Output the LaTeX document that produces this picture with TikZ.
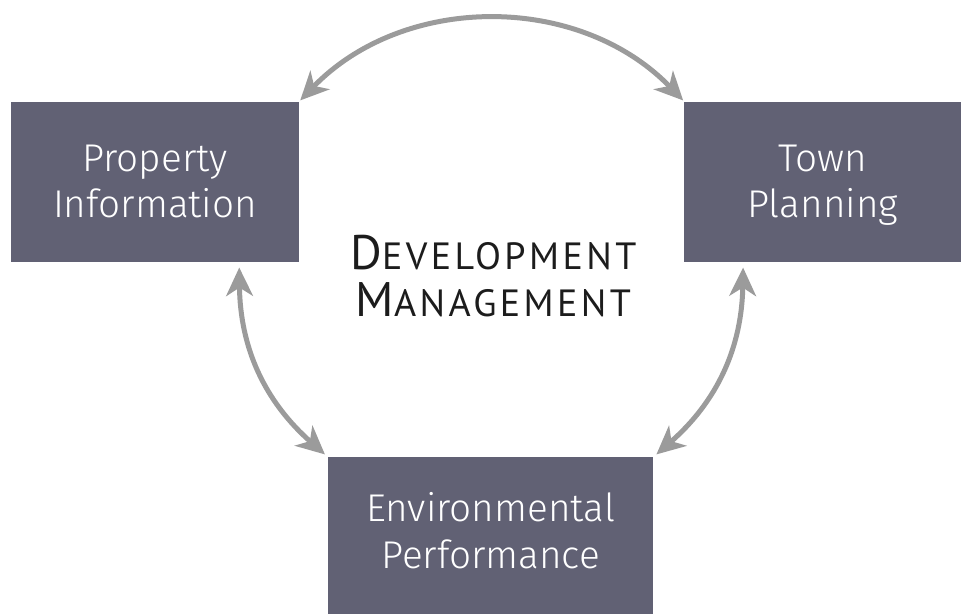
\documentclass[tikz,border=0pt]{standalone}
\usepackage{fontspec}
\usetikzlibrary{arrows.meta}
\newfontfamily\boxfont{Fira Sans Light}
\newfontfamily\titlefont{PT Sans}[LetterSpace=9]
\definecolor{boxgrey}{HTML}{616174}
\definecolor{arcgrey}{HTML}{9B9B9B}
\definecolor{inkblack}{HTML}{1C1C1C}
\newcommand{\capinit}[1]{{\fontsize{41.4pt}{40pt}\selectfont #1}}
\tikzset{
  box/.style={fill=boxgrey, text=white, inner sep=0pt, align=center,
    minimum width=8.64cm, minimum height=4.8cm, text height=2.24cm, text depth=0.12cm,
    font=\boxfont\fontsize{33pt}{39.7pt}\selectfont},
  arc/.style={draw=arcgrey, line width=0.15cm,
    {Stealth[length=0.85cm,width=0.8cm,inset=0.25cm]}-{Stealth[length=0.85cm,width=0.8cm,inset=0.25cm]}}
}
\begin{document}
\begin{tikzpicture}
  \useasboundingbox (0,0) rectangle (28.83,18.42);
  \node[box] (PI) at (4.65,12.95) {Property\\Information};
  \node[box, minimum width=8.3cm] (TP) at (24.68,12.95) {Town\\Planning};
  \node[box, minimum width=9.75cm, minimum height=4.72cm, text depth=0.26cm] (EP) at (14.72,2.36) {Environmental\\Performance};
  \node[text=inkblack, inner sep=0pt, align=center, font=\titlefont\fontsize{32.4pt}{40pt}\selectfont] (DM) at (14.8,10.13)
    {\capinit{D}EVELOPMENT\\\capinit{M}ANAGEMENT};
  \draw[arc] ([xshift=0.03cm,yshift=0.05cm]PI.north east) to[bend left=46] ([xshift=-0.03cm,yshift=0.05cm]TP.north west);
  \draw[arc] ([xshift=-1.8cm,yshift=-0.15cm]PI.south east) to[bend right=24] ([xshift=-0.09cm,yshift=0.06cm]EP.north west);
  \draw[arc] ([xshift=1.77cm,yshift=-0.15cm]TP.south west) to[bend left=24] ([xshift=0.09cm,yshift=0.06cm]EP.north east);
\end{tikzpicture}
\end{document}
